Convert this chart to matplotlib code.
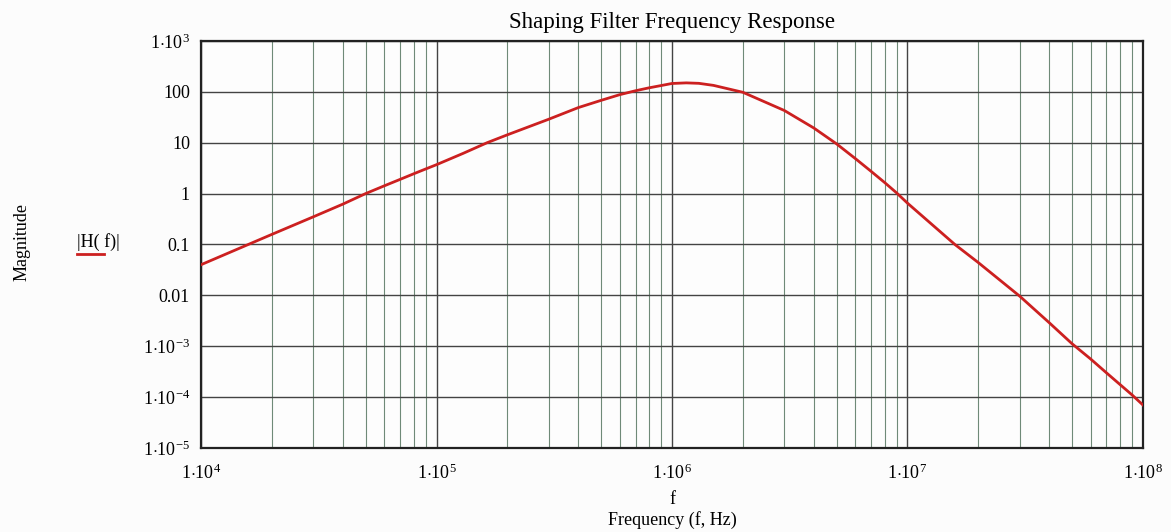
import numpy as np
import matplotlib
matplotlib.use("Agg")
import matplotlib.pyplot as plt
from matplotlib.lines import Line2D
from matplotlib.ticker import FixedLocator, FixedFormatter, NullFormatter

plt.rcParams['font.family'] = ['Liberation Serif', 'DejaVu Serif']
plt.rcParams['mathtext.fontset'] = 'custom'
plt.rcParams['mathtext.rm'] = 'Liberation Serif'
plt.rcParams['mathtext.it'] = 'Liberation Serif:italic'

# ---- data ----
freq = [1e4, 2e4, 3e4, 4e4, 5e4, 6e4, 7e4, 8e4, 9e4, 1e5, 1.3e5, 1.64e5, 2e5, 3e5,
        4e5, 5e5, 6e5, 7e5, 8e5, 9e5, 1e6, 1.15e6, 1.3e6, 1.5e6, 2e6, 3e6, 4e6,
        5e6, 6e6, 7e6, 8e6, 9e6, 1e7, 1.59e7, 2e7, 3e7, 4e7, 5e7, 6e7, 7e7, 8e7,
        9e7, 1e8]
mag = [0.04, 0.158, 0.35, 0.62, 1.0, 1.42, 1.9, 2.45, 3.05, 3.7, 6.2, 10, 14.3, 29,
       49, 68, 88, 105, 120, 133, 146, 150, 147, 134, 98, 43, 19.5,
       9.5, 4.9, 2.75, 1.65, 1.03, 0.65, 0.1, 0.044, 9.6e-3, 2.9e-3, 1.12e-3,
       5.6e-4, 3.0e-4, 1.76e-4, 1.1e-4, 7.0e-5]

x_ticks = [1e4, 1e5, 1e6, 1e7, 1e8]
x_labels = [r'$\mathrm{1{\cdot}10^{4}}$', r'$\mathrm{1{\cdot}10^{5}}$', r'$\mathrm{1{\cdot}10^{6}}$',
            r'$\mathrm{1{\cdot}10^{7}}$', r'$\mathrm{1{\cdot}10^{8}}$']
y_ticks = [1e-5, 1e-4, 1e-3, 1e-2, 1e-1, 1, 10, 100, 1e3]
y_labels = [r'$\mathrm{1{\cdot}10^{-5}}$', r'$\mathrm{1{\cdot}10^{-4}}$', r'$\mathrm{1{\cdot}10^{-3}}$',
            '0.01', '0.1', '1', '10', '100', r'$\mathrm{1{\cdot}10^{3}}$']

# ---- figure ----
fig = plt.figure(figsize=(11.71, 5.32), dpi=100, facecolor='#fcfcfc')
ax = fig.add_axes([0.1717, 0.158, 0.8043, 0.765])
ax.set_facecolor('#fdfdfd')
ax.set_xscale('log')
ax.set_yscale('log')
ax.set_xlim(1e4, 1e8)
ax.set_ylim(1e-5, 1e3)

# grid: minor verticals every 2..9, decades darker
minor_x = [m * 10.0 ** e for e in range(4, 8) for m in range(2, 10)]
ax.xaxis.set_major_locator(FixedLocator(x_ticks))
ax.xaxis.set_major_formatter(FixedFormatter(x_labels))
ax.xaxis.set_minor_locator(FixedLocator(minor_x))
ax.xaxis.set_minor_formatter(NullFormatter())
ax.yaxis.set_major_locator(FixedLocator(y_ticks))
ax.yaxis.set_major_formatter(FixedFormatter(y_labels))
ax.yaxis.set_minor_locator(FixedLocator([]))

ax.grid(True, which='major', axis='both', color='#444444', linewidth=1.0)
ax.grid(True, which='minor', axis='x', color='#6f8a78', linewidth=0.8)
ax.set_axisbelow(True)

ax.tick_params(which='both', length=0, labelsize=13)
ax.tick_params(axis='x', pad=11)
ax.tick_params(axis='y', pad=8)
for s in ax.spines.values():
    s.set_color('#222222')
    s.set_linewidth(1.6)

ax.plot(freq, mag, color='#cc2020', linewidth=2.0, zorder=3)

ax.set_title('Shaping Filter Frequency Response', fontsize=16.5, pad=9)
fig.text(0.574, 0.062, 'f', ha='center', va='center', fontsize=13)
fig.text(0.574, 0.022, 'Frequency (f, Hz)', ha='center', va='center', fontsize=13)
fig.text(0.019, 0.545, 'Magnitude', rotation=90, ha='center', va='center', fontsize=13)

# legend as in the original sheet
fig.text(0.084, 0.545, '|H( f)|', ha='center', va='center', fontsize=13)
fig.add_artist(Line2D([0.066, 0.089], [0.523, 0.523], color='#cc2020',
                      linewidth=2.0, transform=fig.transFigure))

fig.savefig('out.png', dpi=100, facecolor=fig.get_facecolor())
